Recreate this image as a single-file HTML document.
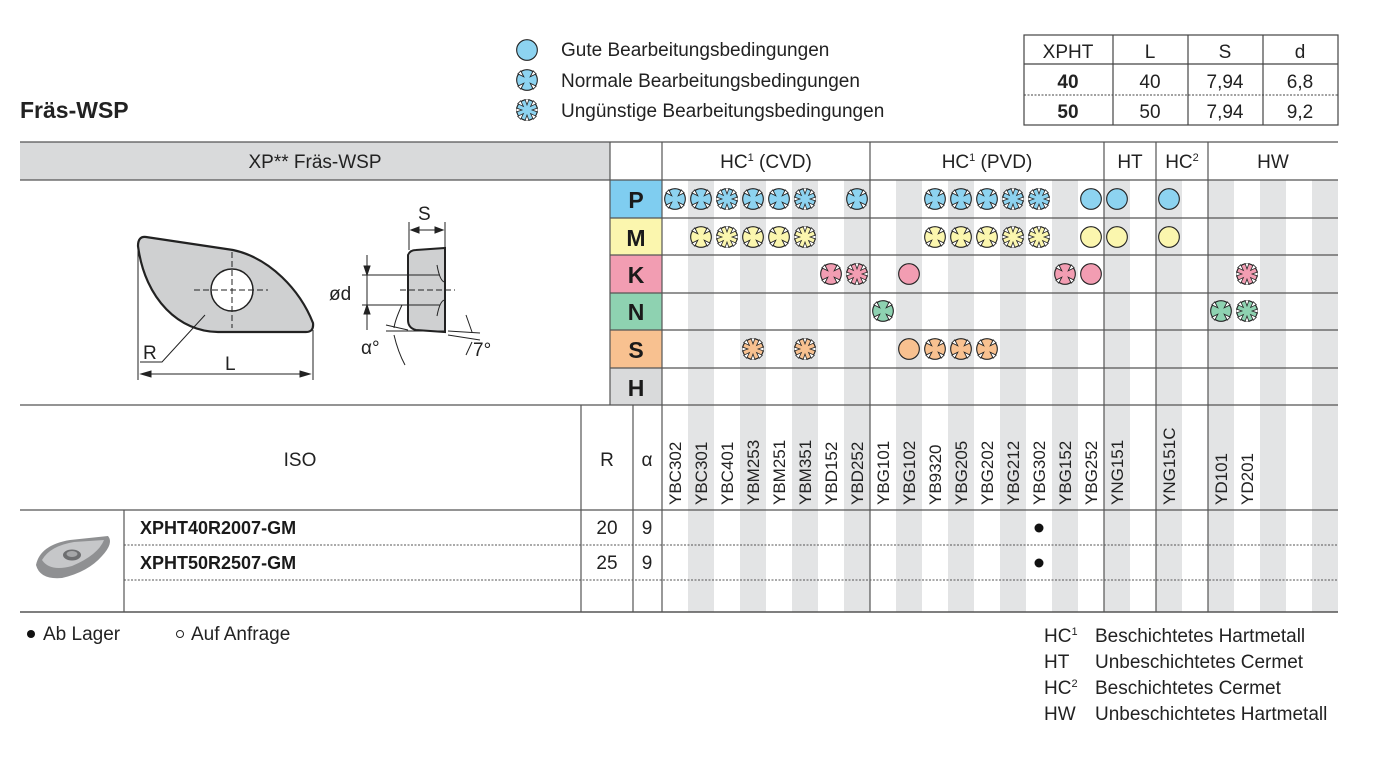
<!DOCTYPE html>
<html><head><meta charset="utf-8"><style>
html,body{margin:0;padding:0;background:#fff;}
svg{display:block;font-family:"Liberation Sans",sans-serif;}
</style></head><body>
<svg width="1396" height="761" viewBox="0 0 1396 761" xmlns="http://www.w3.org/2000/svg">
<defs>
<symbol id="gd" viewBox="-10 -10 20 20"><circle r="9.4" stroke="#222" stroke-width="1"/></symbol>
<symbol id="nm" viewBox="-10 -10 20 20"><circle r="9.4" stroke="#222" stroke-width="1"/>
<g fill="#fff" stroke="#222" stroke-width="0.8">
<polygon points="8.3,5.6 2.9,2.9 5.6,8.3" /><polygon points="-8.3,5.6 -2.9,2.9 -5.6,8.3" /><polygon points="8.3,-5.6 2.9,-2.9 5.6,-8.3" /><polygon points="-8.3,-5.6 -2.9,-2.9 -5.6,-8.3" /></g></symbol>
<symbol id="st" viewBox="-10 -10 20 20"><circle r="9.4" stroke="#222" stroke-width="1"/>
<g fill="#fff" stroke="#222" stroke-width="0.7">
<polygon points="10,1.9 4.6,0 10,-1.9"/><polygon points="10,1.9 4.6,0 10,-1.9" transform="rotate(45)"/><polygon points="10,1.9 4.6,0 10,-1.9" transform="rotate(90)"/><polygon points="10,1.9 4.6,0 10,-1.9" transform="rotate(135)"/><polygon points="10,1.9 4.6,0 10,-1.9" transform="rotate(180)"/><polygon points="10,1.9 4.6,0 10,-1.9" transform="rotate(225)"/><polygon points="10,1.9 4.6,0 10,-1.9" transform="rotate(270)"/><polygon points="10,1.9 4.6,0 10,-1.9" transform="rotate(315)"/></g></symbol>
</defs>

<text x="20" y="118" font-size="23" font-weight="bold" fill="#222">Fräs-WSP</text>

<g fill="#222" font-size="19">
<use href="#gd" x="516" y="39" width="22" height="22" fill="#8dd3f0"/>
<use href="#nm" x="516" y="69" width="22" height="22" fill="#8dd3f0"/>
<use href="#st" x="516" y="99" width="22" height="22" fill="#8dd3f0"/>
<text x="561" y="56">Gute Bearbeitungsbedingungen</text>
<text x="561" y="87">Normale Bearbeitungsbedingungen</text>
<text x="561" y="117">Ungünstige Bearbeitungsbedingungen</text>
</g>

<g stroke="#444" stroke-width="1.2" fill="none">
<rect x="1024" y="35" width="314" height="90"/>
<line x1="1024" y1="64" x2="1338" y2="64"/>
<line x1="1024" y1="95" x2="1338" y2="95" stroke-dasharray="2,1.5" stroke-width="1"/>
<line x1="1113" y1="35" x2="1113" y2="125"/><line x1="1188" y1="35" x2="1188" y2="125"/><line x1="1263" y1="35" x2="1263" y2="125"/>
</g>
<g font-size="19" fill="#222" text-anchor="middle">
<text x="1068" y="58">XPHT</text><text x="1150" y="58">L</text><text x="1225" y="58">S</text><text x="1300" y="58">d</text>
<text x="1068" y="88" font-weight="bold">40</text><text x="1150" y="88">40</text><text x="1225" y="88">7,94</text><text x="1300" y="88">6,8</text>
<text x="1068" y="118" font-weight="bold">50</text><text x="1150" y="118">50</text><text x="1225" y="118">7,94</text><text x="1300" y="118">9,2</text>
</g>

<rect x="20" y="142" width="590" height="38" fill="#d9dadb"/>
<g fill="#e3e4e5">
<rect x="688" y="180" width="26" height="432"/><rect x="740" y="180" width="26" height="432"/><rect x="792" y="180" width="26" height="432"/><rect x="844" y="180" width="26" height="432"/><rect x="896" y="180" width="26" height="432"/><rect x="948" y="180" width="26" height="432"/><rect x="1000" y="180" width="26" height="432"/><rect x="1052" y="180" width="26" height="432"/><rect x="1104" y="180" width="26" height="432"/><rect x="1156" y="180" width="26" height="432"/><rect x="1208" y="180" width="26" height="432"/><rect x="1260" y="180" width="26" height="432"/><rect x="1312" y="180" width="26" height="432"/>
</g>
<rect x="610" y="180" width="52" height="38" fill="#7fcdf0"/>
<rect x="610" y="218" width="52" height="37" fill="#fbf6ae"/>
<rect x="610" y="255" width="52" height="38" fill="#f29db2"/>
<rect x="610" y="293" width="52" height="37" fill="#8ed2b1"/>
<rect x="610" y="330" width="52" height="38" fill="#f8c190"/>
<rect x="610" y="368" width="52" height="37" fill="#d9dadb"/>
<g font-size="23" font-weight="bold" fill="#1a1a1a" text-anchor="middle">
<text x="636" y="208">P</text><text x="636" y="246">M</text><text x="636" y="283">K</text><text x="636" y="320">N</text><text x="636" y="358">S</text><text x="636" y="396">H</text>
</g>

<g stroke="#555" stroke-width="1.2" fill="none">
<line x1="20" y1="142" x2="1338" y2="142"/>
<line x1="20" y1="180" x2="1338" y2="180"/>
<line x1="610" y1="218" x2="1338" y2="218"/>
<line x1="610" y1="255" x2="1338" y2="255"/>
<line x1="610" y1="293" x2="1338" y2="293"/>
<line x1="610" y1="330" x2="1338" y2="330"/>
<line x1="610" y1="368" x2="1338" y2="368"/>
<line x1="20" y1="405" x2="1338" y2="405"/>
<line x1="20" y1="510" x2="1338" y2="510"/>
<line x1="20" y1="612" x2="1338" y2="612" stroke-width="1.5"/>
<line x1="610" y1="142" x2="610" y2="405"/>
<line x1="662" y1="142" x2="662" y2="612"/>
<line x1="870" y1="142" x2="870" y2="612"/>
<line x1="1104" y1="142" x2="1104" y2="612"/>
<line x1="1156" y1="142" x2="1156" y2="612"/>
<line x1="1208" y1="142" x2="1208" y2="612"/>
<line x1="581" y1="405" x2="581" y2="612"/>
<line x1="633" y1="405" x2="633" y2="612"/>
<line x1="124" y1="510" x2="124" y2="612"/>
<line x1="124" y1="545" x2="1338" y2="545" stroke-dasharray="2,1.5" stroke-width="1"/>
<line x1="124" y1="580" x2="1338" y2="580" stroke-dasharray="2,1.5" stroke-width="1"/>
</g>

<g font-size="19" fill="#222" text-anchor="middle">
<text x="315" y="168">XP** Fräs-WSP</text>
<text x="766" y="168">HC<tspan font-size="11" dy="-7">1</tspan><tspan dy="7"> (CVD)</tspan></text>
<text x="987" y="168">HC<tspan font-size="11" dy="-7">1</tspan><tspan dy="7"> (PVD)</tspan></text>
<text x="1130" y="168">HT</text>
<text x="1182" y="168">HC<tspan font-size="11" dy="-7">2</tspan></text>
<text x="1273" y="168">HW</text>
<text x="300" y="466">ISO</text>
<text x="607" y="466">R</text>
<text x="647" y="466">α</text>
<text x="607" y="534">20</text><text x="647" y="534">9</text>
<text x="607" y="569">25</text><text x="647" y="569">9</text>
</g>
<g font-size="18" font-weight="bold" fill="#1a1a1a">
<text x="140" y="534">XPHT40R2007-GM</text>
<text x="140" y="569">XPHT50R2507-GM</text>
</g>
<circle cx="1039" cy="528" r="4.5" fill="#111"/>
<circle cx="1039" cy="563" r="4.5" fill="#111"/>

<g font-size="17" fill="#222">
<text transform="translate(681,505) rotate(-90)">YBC302</text>
<text transform="translate(707,505) rotate(-90)">YBC301</text>
<text transform="translate(733,505) rotate(-90)">YBC401</text>
<text transform="translate(759,505) rotate(-90)">YBM253</text>
<text transform="translate(785,505) rotate(-90)">YBM251</text>
<text transform="translate(811,505) rotate(-90)">YBM351</text>
<text transform="translate(837,505) rotate(-90)">YBD152</text>
<text transform="translate(863,505) rotate(-90)">YBD252</text>
<text transform="translate(889,505) rotate(-90)">YBG101</text>
<text transform="translate(915,505) rotate(-90)">YBG102</text>
<text transform="translate(941,505) rotate(-90)">YB9320</text>
<text transform="translate(967,505) rotate(-90)">YBG205</text>
<text transform="translate(993,505) rotate(-90)">YBG202</text>
<text transform="translate(1019,505) rotate(-90)">YBG212</text>
<text transform="translate(1045,505) rotate(-90)">YBG302</text>
<text transform="translate(1071,505) rotate(-90)">YBG152</text>
<text transform="translate(1097,505) rotate(-90)">YBG252</text>
<text transform="translate(1123,505) rotate(-90)">YNG151</text>
<text transform="translate(1175,505) rotate(-90)">YNG151C</text>
<text transform="translate(1227,505) rotate(-90)">YD101</text>
<text transform="translate(1253,505) rotate(-90)">YD201</text>
</g>

<g fill="#8dd3f0">
<use href="#nm" x="664" y="188" width="22" height="22"/>
<use href="#nm" x="690" y="188" width="22" height="22"/>
<use href="#st" x="716" y="188" width="22" height="22"/>
<use href="#nm" x="742" y="188" width="22" height="22"/>
<use href="#nm" x="768" y="188" width="22" height="22"/>
<use href="#st" x="794" y="188" width="22" height="22"/>
<use href="#nm" x="846" y="188" width="22" height="22"/>
<use href="#nm" x="924" y="188" width="22" height="22"/>
<use href="#nm" x="950" y="188" width="22" height="22"/>
<use href="#nm" x="976" y="188" width="22" height="22"/>
<use href="#st" x="1002" y="188" width="22" height="22"/>
<use href="#st" x="1028" y="188" width="22" height="22"/>
<use href="#gd" x="1080" y="188" width="22" height="22"/>
<use href="#gd" x="1106" y="188" width="22" height="22"/>
<use href="#gd" x="1158" y="188" width="22" height="22"/>
</g>
<g fill="#fbf6ae">
<use href="#nm" x="690" y="226" width="22" height="22"/>
<use href="#st" x="716" y="226" width="22" height="22"/>
<use href="#nm" x="742" y="226" width="22" height="22"/>
<use href="#nm" x="768" y="226" width="22" height="22"/>
<use href="#st" x="794" y="226" width="22" height="22"/>
<use href="#nm" x="924" y="226" width="22" height="22"/>
<use href="#nm" x="950" y="226" width="22" height="22"/>
<use href="#nm" x="976" y="226" width="22" height="22"/>
<use href="#st" x="1002" y="226" width="22" height="22"/>
<use href="#st" x="1028" y="226" width="22" height="22"/>
<use href="#gd" x="1080" y="226" width="22" height="22"/>
<use href="#gd" x="1106" y="226" width="22" height="22"/>
<use href="#gd" x="1158" y="226" width="22" height="22"/>
</g>
<g fill="#f29db2">
<use href="#nm" x="820" y="263" width="22" height="22"/>
<use href="#st" x="846" y="263" width="22" height="22"/>
<use href="#gd" x="898" y="263" width="22" height="22"/>
<use href="#nm" x="1054" y="263" width="22" height="22"/>
<use href="#gd" x="1080" y="263" width="22" height="22"/>
<use href="#st" x="1236" y="263" width="22" height="22"/>
</g>
<g fill="#8ed2b1">
<use href="#nm" x="872" y="300" width="22" height="22"/>
<use href="#nm" x="1210" y="300" width="22" height="22"/>
<use href="#st" x="1236" y="300" width="22" height="22"/>
</g>
<g fill="#f8c190">
<use href="#st" x="742" y="338" width="22" height="22"/>
<use href="#st" x="794" y="338" width="22" height="22"/>
<use href="#gd" x="898" y="338" width="22" height="22"/>
<use href="#nm" x="924" y="338" width="22" height="22"/>
<use href="#nm" x="950" y="338" width="22" height="22"/>
<use href="#nm" x="976" y="338" width="22" height="22"/>
</g>

<g stroke="#222" fill="none" stroke-width="1">
<path d="M146,237 L233,250 C270,258 300,290 313,323 Q314,332 306,332 L218,332 C180,332 145,300 138,246 Q138,236 146,237 Z" fill="#cfd0d1" stroke-width="2.2"/>
<circle cx="232" cy="290" r="21" fill="#fff" stroke-width="1.5"/>
<line x1="194" y1="290" x2="268" y2="290" stroke-dasharray="6,3"/>
<line x1="232" y1="252" x2="232" y2="328" stroke-dasharray="6,3"/>
<polyline points="205,315 162,362 140,362"/>
<line x1="138" y1="246" x2="138" y2="380"/>
<line x1="313" y1="330" x2="313" y2="380"/>
<line x1="141" y1="374" x2="310" y2="374"/>
<path d="M141,374 l10,-3 v6 z M310,374 l-10,-3 v6 z" fill="#222"/>
<path d="M408,255 Q410,250 416,250 L445,248 L445,332 L416,330 Q408,328 408,320 Z" fill="#cfd0d1" stroke-width="2"/>
<path d="M437,265 Q440,282 445,282 M437,316 Q440,300 445,300" />
<line x1="409" y1="222" x2="409" y2="250"/><line x1="445" y1="222" x2="445" y2="248"/>
<line x1="411" y1="230" x2="443" y2="230"/>
<path d="M411,230 l8,-3 v6 z M443,230 l-8,-3 v6 z" fill="#222"/>
<line x1="362" y1="275" x2="440" y2="275"/><line x1="362" y1="305" x2="440" y2="305"/>
<line x1="367" y1="255" x2="367" y2="330"/>
<path d="M367,275 l-3,-9 h6 z M367,305 l-3,9 h6 z" fill="#222"/>
<line x1="400" y1="290" x2="455" y2="290" stroke-dasharray="6,3"/>
<line x1="386" y1="325" x2="408" y2="330"/><line x1="386" y1="331" x2="445" y2="331"/>
<line x1="448" y1="331" x2="480" y2="333"/><line x1="448" y1="335" x2="480" y2="340"/>
<path d="M402,305 Q395,320 394,328 M394,335 Q398,352 405,365" />
<path d="M466,315 L472,332 M472,342 L466,355"/>
</g>
<g font-size="19" fill="#222">
<text x="418" y="220">S</text>
<text x="329" y="300">ød</text>
<text x="361" y="354">α°</text>
<text x="473" y="356">7°</text>
<text x="143" y="359">R</text>
<text x="225" y="370">L</text>
</g>

<g>
<path d="M36,565 Q40,545 70,540 L108,536 Q114,543 102,556 Q88,572 62,578 Q40,580 36,565 Z" fill="#8f9092"/>
<path d="M42,560 Q50,546 74,542 L104,540 Q98,555 72,566 Q50,572 42,560 Z" fill="#c6c7c9"/>
<ellipse cx="72" cy="555" rx="9" ry="5.5" fill="#6d6e70"/>
<ellipse cx="72" cy="554" rx="5.5" ry="3" fill="#a5a6a8"/>
</g>

<g font-size="19" fill="#222">
<circle cx="31" cy="634" r="4" fill="#111"/>
<text x="43" y="640">Ab Lager</text>
<circle cx="180" cy="634" r="3.5" fill="none" stroke="#222" stroke-width="1"/>
<text x="191" y="640">Auf Anfrage</text>
<text x="1044" y="642">HC<tspan font-size="11" dy="-7">1</tspan></text>
<text x="1044" y="668">HT</text>
<text x="1044" y="694">HC<tspan font-size="11" dy="-7">2</tspan></text>
<text x="1044" y="720">HW</text>
<text x="1095" y="642">Beschichtetes Hartmetall</text>
<text x="1095" y="668">Unbeschichtetes Cermet</text>
<text x="1095" y="694">Beschichtetes Cermet</text>
<text x="1095" y="720">Unbeschichtetes Hartmetall</text>
</g>
</svg>
</body></html>
